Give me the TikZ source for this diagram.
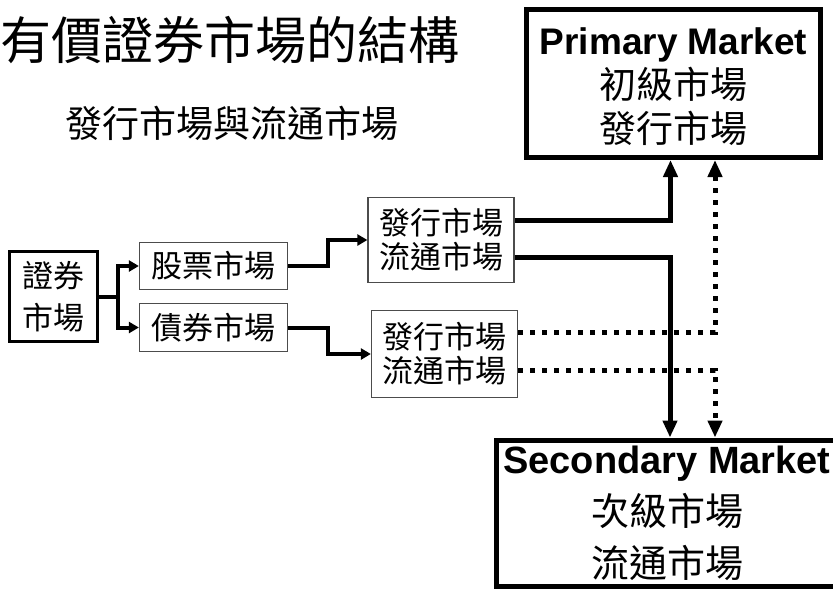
\documentclass[tikz,border=0pt]{standalone}
\usepackage{fontspec}
\setmainfont{Liberation Sans}
\newfontfamily\cjk{Noto Sans CJK TC}
\usetikzlibrary{arrows.meta,calc}
\tikzset{
  cjkbox/.style={draw=black!70, line width=1.3pt, inner sep=0pt, align=center, font=\cjk\fontsize{31}{34}\selectfont},
  mainbox/.style={draw, line width=5pt, inner sep=0pt, align=center},
  link/.style={line width=4pt, -{Triangle[length=10pt,width=11pt]}},
  biglink/.style={line width=5pt, -{Triangle[length=17pt,width=14pt]}},
  dotlink/.style={biglink, dash pattern=on 5pt off 7pt},
}
\begin{document}
\begin{tikzpicture}[x=1pt,y=-1pt]
\useasboundingbox (0,0) rectangle (833,590);

\path (0.5,40) node[anchor=west, inner sep=0pt, font=\cjk\fontsize{51}{51}\selectfont] (title) {有價證券市場的結構};
\path (231.5,123) node[inner sep=0pt, font=\cjk\fontsize{37}{37}\selectfont] (subtitle) {發行市場與流通市場};

\path (53.5,296.5) node[cjkbox, draw=black, line width=3pt, minimum width=88pt, minimum height=90pt, font=\cjk\fontsize{31}{42}\selectfont] (sec) {證券\\市場};
\path (213.5,266) node[cjkbox, minimum width=148pt, minimum height=47pt] (stock) {股票市場};
\path (213.5,327.5) node[cjkbox, minimum width=148pt, minimum height=48pt] (bond) {債券市場};

\foreach \n/\x/\y/\h in {issue1/441/240/85, issue2/444.5/354/87}
{
    \path (\x,\y) node[cjkbox, minimum width=146pt, minimum height=\h pt] (\n) {發行市場\\流通市場};
}

\path (673.5,83.5) node[mainbox, minimum width=294pt, minimum height=148pt, font=\fontsize{37}{44}\selectfont] (prim) {\rule{0pt}{33pt}\textbf{Primary Market}\\{\cjk 初級市場}\\{\cjk 發行市場}};
\path (667,513) node[mainbox, minimum width=341pt, minimum height=146pt, font=\fontsize{38}{52}\selectfont] (secd) {\textbf{Secondary Market}\\{\cjk 次級市場}\\{\cjk 流通市場}};

\draw [link] (sec.east) -- ++(19,0) coordinate (fork) |- (stock.west);
\draw [link] (fork) |- (bond.west);
\draw [link] (stock.east) -- ++(40,0) |- (issue1.west);
\draw [link] (bond.east) -- ++(40,0) |- (issue2.west);

\draw [biglink] ($(issue1.east)+(0,-20)$) -| ($(prim.south)+(-3,0)$);
\draw [biglink] ($(issue1.east)+(0,17)$) -| ($(secd.north)+(3,0)$);
\draw [dotlink] ($(issue2.east)+(0,-22)$) -| ($(prim.south)+(41.5,0)$);
\draw [dotlink] ($(issue2.east)+(0,16)$) -| ($(secd.north)+(48,0)$);

\end{tikzpicture}
\end{document}
